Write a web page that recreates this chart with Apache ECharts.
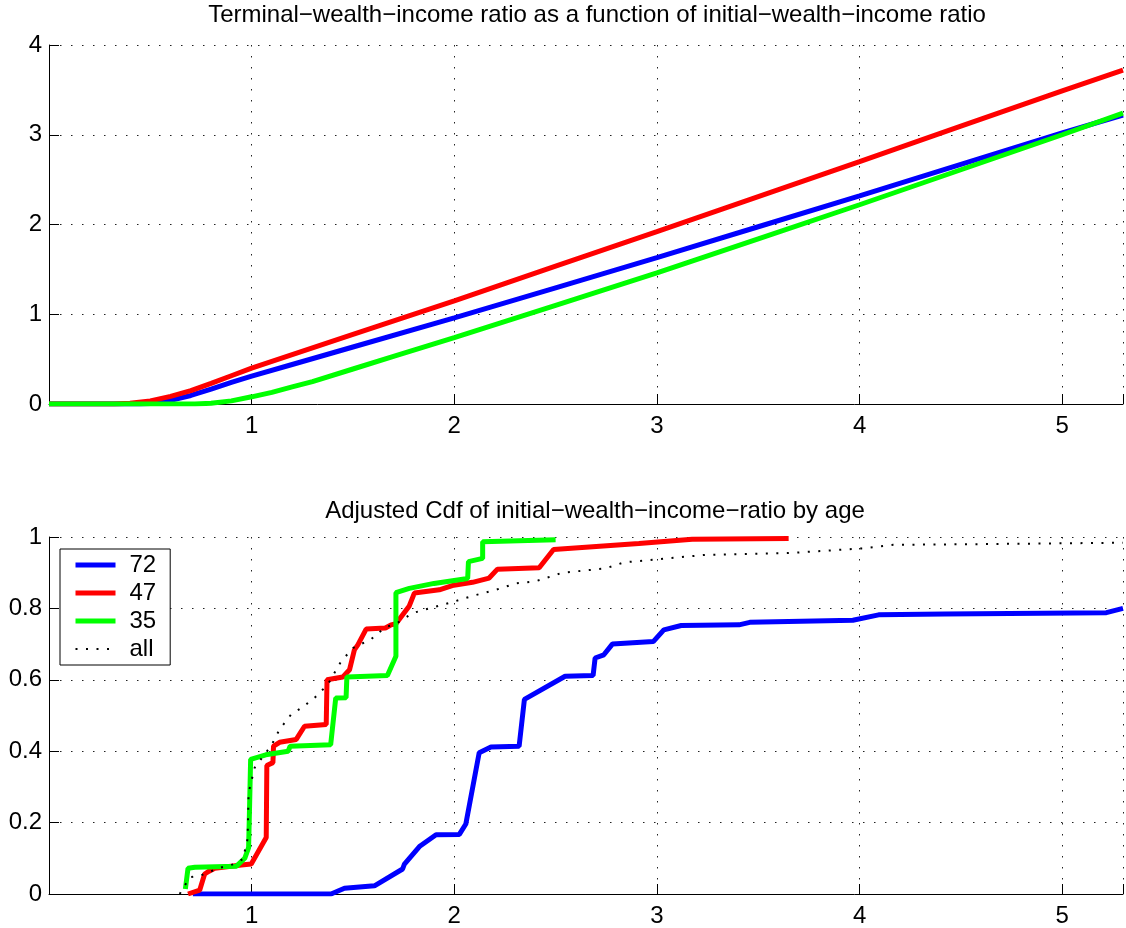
<!DOCTYPE html>
<html>
<head>
<meta charset="utf-8">
<script src="https://cdn.jsdelivr.net/npm/echarts@6/dist/echarts.min.js"></script>
<style>
  html, body { margin: 0; padding: 0; background: #fff; }
  #chart { width: 1126px; height: 928px; }
</style>
</head>
<body>
<div id="chart"></div>
<script>
// top panel: terminal wealth/income vs initial wealth/income, [x, y]
const terminal72 = [[0, 0], [0.45, 0], [0.5, 0.005], [0.6, 0.04], [0.7, 0.095], [0.8, 0.165], [0.9, 0.24], [1, 0.31],
  [1.2, 0.44], [1.5, 0.635], [2, 0.96], [2.5, 1.295], [3, 1.63], [3.5, 1.975], [4, 2.32], [4.5, 2.67], [5, 3.02], [5.3, 3.22]]
const terminal47 = [[0, 0], [0.32, 0], [0.4, 0.008], [0.5, 0.035], [0.6, 0.085], [0.7, 0.15], [0.8, 0.23], [0.9, 0.315],
  [1, 0.4], [1.5, 0.775], [2, 1.15], [2.5, 1.535], [3, 1.92], [3.5, 2.31], [4, 2.7], [4.5, 3.095], [5, 3.49], [5.3, 3.72]]
const terminal35 = [[0, 0], [0.72, 0], [0.8, 0.008], [0.9, 0.035], [1, 0.08], [1.1, 0.13], [1.2, 0.19], [1.3, 0.25],
  [1.5, 0.39], [1.7, 0.53], [2, 0.74], [2.5, 1.1], [3, 1.46], [3.5, 1.84], [4, 2.22], [4.5, 2.61], [5, 3.0], [5.3, 3.24]]

// bottom panel: adjusted cdf by age, [x, F(x)]
const cdf72 = [[0.71, 0], [1.392, 0], [1.458, 0.016], [1.606, 0.023], [1.745, 0.07], [1.754, 0.084], [1.828, 0.133],
  [1.91, 0.166], [2.025, 0.167], [2.057, 0.196], [2.123, 0.396], [2.181, 0.412], [2.32, 0.414], [2.346, 0.545],
  [2.547, 0.61], [2.685, 0.612], [2.695, 0.661], [2.738, 0.67], [2.78, 0.7], [2.982, 0.707], [3.034, 0.74],
  [3.12, 0.752], [3.405, 0.754], [3.458, 0.761], [3.967, 0.767], [4.094, 0.782], [4.42, 0.784], [5.218, 0.788], [5.3, 0.8]]
const cdf47 = [[0.686, 0], [0.744, 0.011], [0.768, 0.056], [0.79, 0.064], [0.818, 0.072], [0.949, 0.081], [0.998, 0.084],
  [1.072, 0.158], [1.075, 0.36], [1.105, 0.368], [1.108, 0.414], [1.138, 0.425], [1.22, 0.433], [1.261, 0.47],
  [1.368, 0.475], [1.372, 0.6], [1.45, 0.608], [1.483, 0.628], [1.507, 0.684], [1.524, 0.698], [1.565, 0.742],
  [1.66, 0.745], [1.688, 0.754], [1.712, 0.757], [1.778, 0.807], [1.803, 0.843], [1.926, 0.852], [1.99, 0.864],
  [2.09, 0.873], [2.172, 0.885], [2.213, 0.91], [2.419, 0.914], [2.49, 0.965], [2.911, 0.982], [3.174, 0.994], [3.65, 0.996]]
const cdf35 = [[0.673, 0.014], [0.686, 0.072], [0.72, 0.075], [0.925, 0.078], [0.966, 0.1], [0.985, 0.13], [0.99, 0.25],
  [0.995, 0.377], [1.07, 0.39], [1.18, 0.4], [1.19, 0.414], [1.39, 0.418], [1.415, 0.549], [1.466, 0.55], [1.47, 0.608],
  [1.67, 0.612], [1.712, 0.666], [1.712, 0.844], [1.778, 0.856], [1.9, 0.87], [2.066, 0.884], [2.07, 0.931],
  [2.14, 0.94], [2.14, 0.987], [2.5, 0.992]]
const cdfAll = [[0.645, 0], [0.695, 0.047], [0.74, 0.05], [0.785, 0.06], [0.834, 0.072], [0.916, 0.084], [0.957, 0.098],
  [0.98, 0.154], [0.985, 0.284], [1.015, 0.354], [1.097, 0.416], [1.138, 0.461], [1.195, 0.503], [1.245, 0.521],
  [1.31, 0.549], [1.376, 0.587], [1.442, 0.652], [1.5, 0.689], [1.59, 0.714], [1.663, 0.749], [1.704, 0.754],
  [1.795, 0.787], [1.877, 0.8], [1.975, 0.815], [2.09, 0.835], [2.205, 0.852], [2.304, 0.87], [2.402, 0.876],
  [2.534, 0.9], [2.747, 0.912], [2.837, 0.929], [2.994, 0.937], [3.24, 0.95], [3.65, 0.955], [4.01, 0.968],
  [4.167, 0.978], [4.586, 0.98], [5.3, 0.984]]

const ages = ['72', '47', '35', 'all']
const colors = { '72': '#0000ff', '47': '#ff0000', '35': '#00ff00', all: '#000000' }

const font = 'Liberation Sans, Arial, Helvetica, sans-serif'
const gridDots = { color: '#222', width: 1, type: [1.5, 9.5] }
const allDots = { color: '#000', width: 2, type: [2, 8.5] }

function xAxisFor(gridIndex) {
  return {
    type: 'value', gridIndex, min: 0, max: 5.3, interval: 1,
    axisLine: { show: true, onZero: false, lineStyle: { color: '#000', width: 1 } },
    axisTick: { show: true, inside: true, length: 10, lineStyle: { color: '#000' } },
    axisLabel: {
      color: '#000', fontSize: 24, fontFamily: font, margin: 10,
      formatter: v => (v > 0 && Number.isInteger(v)) ? String(v) : ''
    },
    splitLine: { show: true, lineStyle: gridDots }
  }
}

function yAxisFor(gridIndex, max, interval) {
  return {
    type: 'value', gridIndex, min: 0, max, interval,
    axisLine: { show: true, lineStyle: { color: '#000', width: 1 } },
    axisTick: { show: true, inside: true, length: 10, lineStyle: { color: '#000' } },
    axisLabel: { color: '#000', fontSize: 24, fontFamily: font, margin: 7 },
    splitLine: { show: true, lineStyle: gridDots }
  }
}

function line(name, data, idx, style) {
  return {
    name, type: 'line', data, xAxisIndex: idx, yAxisIndex: idx,
    showSymbol: false, symbol: 'none', animation: false,
    lineStyle: style || { color: colors[name], width: 5 },
    itemStyle: { color: colors[name] }
  }
}

const chart = echarts.init(document.getElementById('chart'), null, { renderer: 'canvas' })
chart.setOption({
  backgroundColor: '#fff',
  animation: false,
  title: [
    {
      text: 'Terminal\u2212wealth\u2212income ratio as a function of initial\u2212wealth\u2212income ratio',
      left: 592, top: -2, textAlign: 'center',
      textStyle: { color: '#000', fontSize: 24, fontWeight: 'normal', fontFamily: font }
    },
    {
      text: 'Adjusted Cdf of initial\u2212wealth\u2212income\u2212ratio by age',
      left: 590, top: 494, textAlign: 'center',
      textStyle: { color: '#000', fontSize: 24, fontWeight: 'normal', fontFamily: font }
    }
  ],
  legend: {
    data: ages.map(a => ({
      name: a,
      lineStyle: a === 'all' ? allDots : { color: colors[a], width: 5 }
    })),
    orient: 'vertical', left: 60, top: 549,
    padding: [4, 14, 4, 13], itemGap: 4, itemWidth: 40, itemHeight: 14,
    borderColor: '#000', borderWidth: 1, borderRadius: 0, backgroundColor: '#fff',
    itemStyle: { opacity: 0 },
    textStyle: { color: '#000', fontSize: 24, fontFamily: font, padding: [0, 0, 0, 9] },
    selectedMode: false
  },
  grid: [
    { left: 49, right: 0, top: 45, height: 359 },
    { left: 49, right: 0, top: 537, height: 358 }
  ],
  xAxis: [xAxisFor(0), xAxisFor(1)],
  yAxis: [yAxisFor(0, 4, 1), yAxisFor(1, 1, 0.2)],
  series: [
    line('72', terminal72, 0),
    line('47', terminal47, 0),
    line('35', terminal35, 0),
    line('72', cdf72, 1),
    line('47', cdf47, 1),
    line('35', cdf35, 1),
    line('all', cdfAll, 1, allDots)
  ]
})
</script>
</body>
</html>
